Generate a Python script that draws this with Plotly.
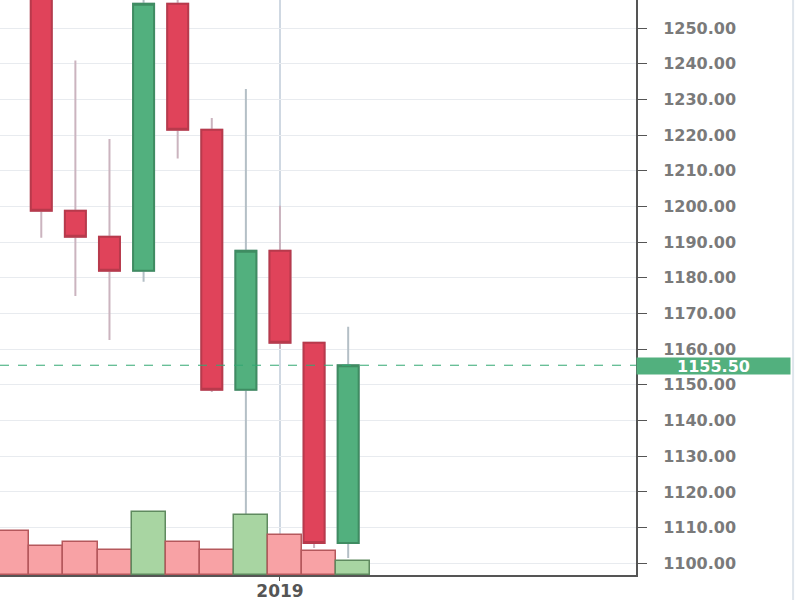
"""Daily candles around the 2019 year change, with volume under them."""

import plotly.graph_objects as go

DATES = [
    "2018-12-24", "2018-12-25", "2018-12-26", "2018-12-27", "2018-12-28", "2018-12-29",
    "2018-12-30", "2018-12-31", "2019-01-01", "2019-01-02", "2019-01-03",
]
OPEN = [1290.0, 1265.0, 1198.8, 1191.5, 1182.0, 1256.8, 1221.5, 1148.6, 1187.6, 1161.8, 1105.7]
HIGH = [1295.0, 1270.0, 1240.9, 1218.9, 1259.0, 1259.0, 1224.8, 1232.9, 1200.2, 1162.0, 1166.3]
LOW = [1262.0, 1191.2, 1174.9, 1162.6, 1178.9, 1213.4, 1148.0, 1108.0, 1160.1, 1104.3, 1101.5]
CLOSE = [1265.0, 1198.8, 1191.5, 1182.0, 1256.8, 1221.5, 1148.6, 1187.6, 1161.8, 1105.7, 1155.5]
VOLUME = [44, 29, 33, 25, 63, 33, 25, 60, 40, 24, 14]
LAST_PRICE = 1155.5

UP = "#52b07e"
UP_EDGE = "#3f8c62"
UP_WICK = "#b4bfc6"
DOWN = "#e0435a"
DOWN_EDGE = "#b83a4c"
DOWN_WICK = "#cbb4bf"
VOL_UP = "#a8d5a2"
VOL_UP_EDGE = "#5f8a5f"
VOL_DOWN = "#f8a2a5"
VOL_DOWN_EDGE = "#b5585c"
DAY_MS = 86400000

up = [c >= o for o, c in zip(OPEN, CLOSE)]
body_top = [max(o, c) for o, c in zip(OPEN, CLOSE)]
body_bot = [min(o, c) for o, c in zip(OPEN, CLOSE)]

fig = go.Figure()

# wicks: one candlestick in the wick colour, the bodies are drawn over it
fig.add_trace(
    go.Candlestick(
        x=DATES, open=OPEN, high=HIGH, low=LOW, close=CLOSE,
        increasing=dict(line=dict(color=UP_WICK, width=2), fillcolor=UP),
        decreasing=dict(line=dict(color=DOWN_WICK, width=2), fillcolor=DOWN),
        hoverinfo="skip", showlegend=False,
    )
)
fig.add_trace(
    go.Candlestick(
        x=DATES, open=OPEN, high=body_top, low=body_bot, close=CLOSE,
        increasing=dict(line=dict(color=UP_EDGE, width=2), fillcolor=UP),
        decreasing=dict(line=dict(color=DOWN_EDGE, width=2), fillcolor=DOWN),
        showlegend=False,
    )
)
fig.add_trace(
    go.Bar(
        x=DATES, y=VOLUME, yaxis="y2",
        width=DAY_MS, offset=-0.35 * DAY_MS,
        marker=dict(
            color=[VOL_UP if u else VOL_DOWN for u in up],
            line=dict(color=[VOL_UP_EDGE if u else VOL_DOWN_EDGE for u in up], width=1.5),
        ),
        showlegend=False,
    )
)

fig.add_shape(
    type="line", xref="paper", x0=0, x1=1, yref="y", y0=LAST_PRICE, y1=LAST_PRICE,
    line=dict(color="#33a872", width=1, dash="dash"),
)
fig.add_shape(
    type="line", xref="paper", x0=1.247, x1=1.247, yref="paper", y0=-0.05, y1=1,
    line=dict(color="#dfe5ec", width=2),
)
fig.add_annotation(
    xref="paper", x=1, xanchor="left", yref="y", y=LAST_PRICE, yshift=-1,
    text=f"{LAST_PRICE:.2f}", showarrow=False,
    font=dict(family="DejaVu Sans", size=16, color="white", weight="bold"),
    bgcolor=UP, width=151, height=14, borderpad=1, align="center",
)

fig.update_layout(
    width=800, height=600,
    margin=dict(l=0, r=164, t=0, b=25, autoexpand=False),
    paper_bgcolor="white", plot_bgcolor="white",
    boxgap=0.384, boxgroupgap=0,
    bargap=0,
    xaxis=dict(
        type="date",
        range=["2018-12-23 18:57", "2019-01-11 10:34"],
        rangeslider=dict(visible=False),
        tickvals=["2019-01-01"], ticktext=["2019"],
        ticks="outside", ticklen=4, tickcolor="#555",
        ticklabelstandoff=-4,
        tickfont=dict(family="DejaVu Sans", size=17, color="#555", weight="bold"),
        showgrid=True, gridcolor="#cfd8e2", gridwidth=1.5,
        showline=True, linecolor="#555", linewidth=2,
        zeroline=False,
    ),
    yaxis=dict(
        side="right",
        range=[1096.72, 1257.85],
        dtick=10, tick0=1100, tickformat=".2f",
        ticks="outside", ticklen=9, tickcolor="#555",
        ticklabelstandoff=13,
        tickfont=dict(family="DejaVu Sans", size=16, color="#7a7a7a", weight="bold"),
        showgrid=True, gridcolor="#e8ebef", gridwidth=1,
        showline=True, linecolor="#555", linewidth=2,
        zeroline=False,
    ),
    yaxis2=dict(
        overlaying="y", range=[0, 575], visible=False, fixedrange=True,
    ),
)

# the page's default body margin would push the figure 8px in
fig.write_html(
    "out.html",
    config={"displayModeBar": False},
    post_script="document.body.style.margin = '0';",
)
